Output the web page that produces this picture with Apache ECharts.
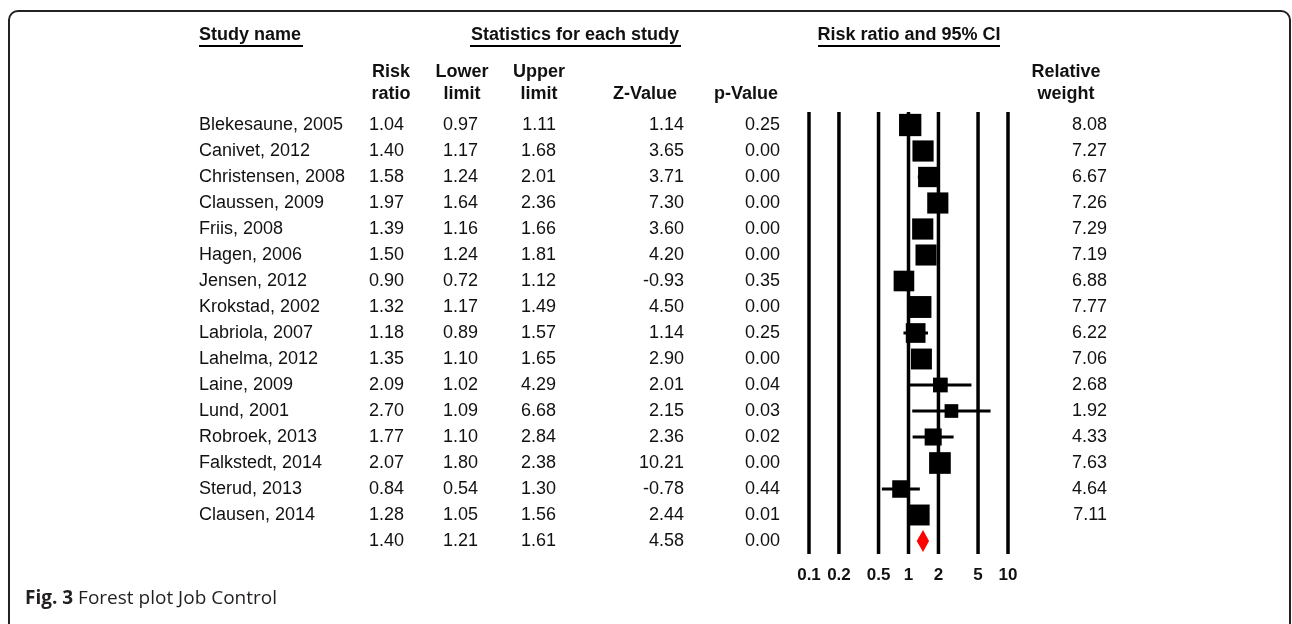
<!DOCTYPE html>
<html><head><meta charset="utf-8">
<script src="https://cdn.jsdelivr.net/npm/echarts@6/dist/echarts.min.js"></script>
<style>html,body{margin:0;padding:0;background:#fff}#c{width:1292px;height:624px}</style>
</head><body><div id="c"></div>
<script>
// ---- data ----
const studies = ['Blekesaune, 2005','Canivet, 2012','Christensen, 2008','Claussen, 2009','Friis, 2008','Hagen, 2006','Jensen, 2012','Krokstad, 2002','Labriola, 2007','Lahelma, 2012','Laine, 2009','Lund, 2001','Robroek, 2013','Falkstedt, 2014','Sterud, 2013','Clausen, 2014'];
const riskRatio  = [1.04,1.40,1.58,1.97,1.39,1.50,0.90,1.32,1.18,1.35,2.09,2.70,1.77,2.07,0.84,1.28];
const lowerLimit = [0.97,1.17,1.24,1.64,1.16,1.24,0.72,1.17,0.89,1.10,1.02,1.09,1.10,1.80,0.54,1.05];
const upperLimit = [1.11,1.68,2.01,2.36,1.66,1.81,1.12,1.49,1.57,1.65,4.29,6.68,2.84,2.38,1.30,1.56];
const zValue     = [1.14,3.65,3.71,7.30,3.60,4.20,-0.93,4.50,1.14,2.90,2.01,2.15,2.36,10.21,-0.78,2.44];
const pValue     = [0.25,0.00,0.00,0.00,0.00,0.00,0.35,0.00,0.25,0.00,0.04,0.03,0.02,0.00,0.44,0.01];
const relWeight  = [8.08,7.27,6.67,7.26,7.29,7.19,6.88,7.77,6.22,7.06,2.68,1.92,4.33,7.63,4.64,7.11];
const summaryRR = 1.40, summaryLower = 1.21, summaryUpper = 1.61, summaryZ = 4.58, summaryP = 0.00;
const axisTicks  = [0.1,0.2,0.5,1,2,5,10];
const tickLabels = ['0.1','0.2','0.5','1','2','5','10'];

// ---- layout ----
const F = "'Liberation Sans', Arial, sans-serif";
const TXT = '#111';
const COL = {name:199, rr:404, ll:478, ul:556, z:684, p:780, w:1107};
const nRows = studies.length + 1;

const chart = echarts.init(document.getElementById('c'));
const fmt = v => v.toFixed(2);

const studyData = studies.map((s,i)=>[riskRatio[i], i+1, lowerLimit[i], upperLimit[i], relWeight[i], i]);

function textEl(x, y, text, align, bold){
  return {type:'text', x:x, y:y, style:{text:text, font:(bold?'bold ':'')+'18px '+F, fill:TXT, align:align, verticalAlign:'middle'}};
}

const option = {
  animation:false,
  grid:{left:809, width:199, top:112, height:442},
  xAxis:{type:'log', logBase:10, min:0.1, max:10, show:false},
  yAxis:{type:'value', min:0.5, max:nRows+0.5, inverse:true, show:false},
  series:[
    { // vertical reference lines + tick labels
      type:'custom', clip:false, z:1,
      data: axisTicks.map((v,i)=>[v,i]),
      renderItem:(params, api)=>{
        const v = api.value(0);
        const t = api.coord([v, 0.5]);
        const b = api.coord([v, nRows+0.5]);
        return {type:'group', children:[
          {type:'line', shape:{x1:t[0], y1:t[1], x2:b[0], y2:b[1]}, style:{stroke:'#000', lineWidth:3.5}},
          {type:'text', x:b[0], y:b[1]+21, style:{text:tickLabels[api.value(1)], font:'bold 17px '+F, fill:TXT, align:'center', verticalAlign:'middle'}}
        ]};
      }
    },
    { // study CIs and squares
      type:'custom', clip:false, z:2,
      data: studyData,
      renderItem:(params, api)=>{
        const row = api.value(1);
        const c = api.coord([api.value(0), row]);
        const l = api.coord([api.value(2), row]);
        const u = api.coord([api.value(3), row]);
        const s = 11 + 1.4*api.value(4);
        return {type:'group', children:[
          {type:'line', shape:{x1:l[0], y1:l[1], x2:u[0], y2:u[1]}, style:{stroke:'#000', lineWidth:3}},
          {type:'rect', shape:{x:c[0]-s/2, y:c[1]-s/2, width:s, height:s}, style:{fill:'#000'}}
        ]};
      }
    },
    { // summary diamond
      type:'custom', clip:false, z:2,
      data: [[summaryRR, nRows, summaryLower, summaryUpper]],
      renderItem:(params, api)=>{
        const row = api.value(1);
        const c = api.coord([api.value(0), row]);
        const l = api.coord([api.value(2), row]);
        const u = api.coord([api.value(3), row]);
        const h = 11;
        return {type:'polygon', shape:{points:[[l[0],c[1]],[c[0],c[1]-h],[u[0],c[1]],[c[0],c[1]+h]]}, style:{fill:'#ff0000'}};
      }
    },
    { // table text
      type:'custom', clip:false, z:3,
      data: studyData.concat([[summaryRR, nRows, summaryLower, summaryUpper, 0, -1]]),
      renderItem:(params, api)=>{
        const row = api.value(1);
        const y = api.coord([1, row])[1];
        const i = api.value(5);
        if (i < 0) {
          return {type:'group', children:[
            textEl(COL.rr, y, fmt(summaryRR), 'right'),
            textEl(COL.ll, y, fmt(summaryLower), 'right'),
            textEl(COL.ul, y, fmt(summaryUpper), 'right'),
            textEl(COL.z, y, fmt(summaryZ), 'right'),
            textEl(COL.p, y, fmt(summaryP), 'right')
          ]};
        }
        return {type:'group', children:[
          textEl(COL.name, y, studies[i], 'left'),
          textEl(COL.rr, y, fmt(riskRatio[i]), 'right'),
          textEl(COL.ll, y, fmt(lowerLimit[i]), 'right'),
          textEl(COL.ul, y, fmt(upperLimit[i]), 'right'),
          textEl(COL.z, y, fmt(zValue[i]), 'right'),
          textEl(COL.p, y, fmt(pValue[i]), 'right'),
          textEl(COL.w, y, fmt(relWeight[i]), 'right')
        ]};
      }
    }
  ],
  graphic:[
    {type:'rect', shape:{x:9, y:11, width:1281, height:700, r:9}, style:{fill:'none', stroke:'#222', lineWidth:2}},
    textEl(199, 35, 'Study name', 'left', true),
    {type:'line', shape:{x1:199, y1:46, x2:303, y2:46}, style:{stroke:'#000', lineWidth:2}},
    textEl(575, 35, 'Statistics for each study', 'center', true),
    {type:'line', shape:{x1:470, y1:46, x2:681, y2:46}, style:{stroke:'#000', lineWidth:2}},
    textEl(909, 35, 'Risk ratio and 95% CI', 'center', true),
    {type:'line', shape:{x1:818, y1:46, x2:1000, y2:46}, style:{stroke:'#000', lineWidth:2}},
    textEl(391, 72, 'Risk', 'center', true),
    textEl(391, 94, 'ratio', 'center', true),
    textEl(462, 72, 'Lower', 'center', true),
    textEl(462, 94, 'limit', 'center', true),
    textEl(539, 72, 'Upper', 'center', true),
    textEl(539, 94, 'limit', 'center', true),
    textEl(645, 94, 'Z-Value', 'center', true),
    textEl(746, 94, 'p-Value', 'center', true),
    textEl(1066, 72, 'Relative', 'center', true),
    textEl(1066, 94, 'weight', 'center', true),
    {type:'text', x:25, y:599, style:{text:'{b|Fig. 3} Forest plot Job Control', font:"19px 'Open Sans', sans-serif", fill:'#231f20', verticalAlign:'middle', rich:{b:{font:"bold 19px 'Open Sans', sans-serif", fill:'#231f20'}}}}
  ]
};
chart.setOption(option);
</script>
</body></html>
